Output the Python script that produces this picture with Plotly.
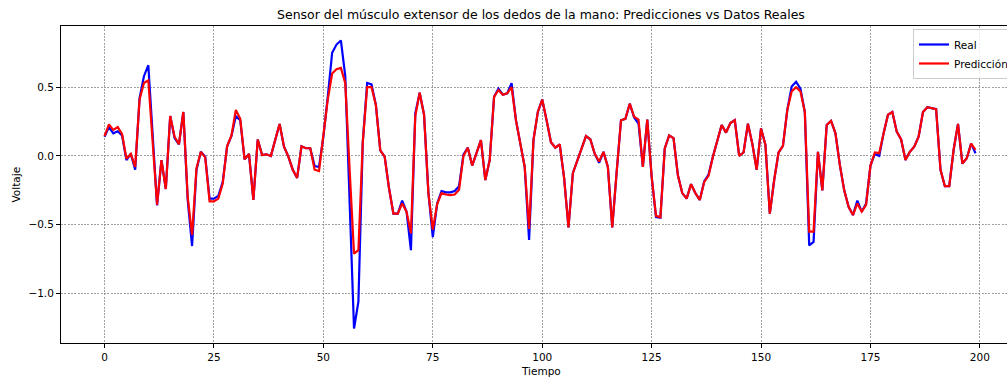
import plotly.graph_objects as go

tiempo = list(range(200))

real = [
    0.14, 0.21, 0.165, 0.18, 0.15, -0.03, 0.015, -0.10, 0.42, 0.58,
    0.66, 0.15, -0.36, -0.03, -0.24, 0.29, 0.13, 0.085, 0.32, -0.32,
    -0.655, -0.10, 0.03, -0.005, -0.31, -0.31, -0.29, -0.19, 0.07, 0.145,
    0.29, 0.26, -0.025, 0.015, -0.32, 0.12, 0.007, 0.012, 0.0, 0.117,
    0.233, 0.068, -0.005, -0.10, -0.16, 0.07, 0.056, 0.056, -0.073, -0.08,
    0.14, 0.43, 0.75, 0.81, 0.84, 0.58, -0.34, -1.255, -1.06, 0.10,
    0.53, 0.52, 0.37, 0.04, -0.005, -0.235, -0.42, -0.42, -0.325, -0.405,
    -0.685, 0.31, 0.46, 0.30, -0.27, -0.59, -0.345, -0.255, -0.265, -0.265,
    -0.255, -0.22, 0.01, 0.06, -0.07, 0.02, 0.115, -0.175, -0.03, 0.43,
    0.49, 0.445, 0.455, 0.53, 0.26, 0.09, -0.08, -0.61, 0.115, 0.32,
    0.41, 0.26, 0.10, 0.06, 0.085, -0.16, -0.52, -0.125, -0.04, 0.055,
    0.145, 0.12, 0.015, -0.05, 0.03, -0.08, -0.52, -0.12, 0.26, 0.27,
    0.38, 0.28, 0.235, -0.08, 0.265, -0.15, -0.445, -0.45, 0.055, 0.15,
    0.13, -0.14, -0.27, -0.31, -0.205, -0.27, -0.32, -0.185, -0.135, -0.005,
    0.117, 0.225, 0.17, 0.24, 0.26, 0.0, 0.025, 0.235, 0.09, -0.10,
    0.20, 0.08, -0.42, -0.175, 0.025, 0.073, 0.335, 0.505, 0.54, 0.49,
    0.32, -0.65, -0.625, 0.03, -0.25, 0.225, 0.255, 0.165, -0.065, -0.25,
    -0.37, -0.43, -0.325, -0.405, -0.345, -0.07, 0.015, 0.0, 0.165, 0.30,
    0.32, 0.177, 0.12, -0.03, 0.03, 0.068, 0.14, 0.32, 0.355, 0.347,
    0.34, -0.10, -0.22, -0.22, 0.045, 0.233, -0.055, -0.017, 0.09, 0.02,
]

prediccion = [
    0.145, 0.23, 0.19, 0.21, 0.16, -0.02, 0.015, -0.08, 0.41, 0.53,
    0.55, 0.10, -0.355, -0.03, -0.24, 0.29, 0.14, 0.085, 0.32, -0.30,
    -0.575, -0.09, 0.03, -0.01, -0.33, -0.33, -0.31, -0.20, 0.07, 0.15,
    0.335, 0.27, -0.025, 0.015, -0.32, 0.12, 0.007, 0.012, 0.0, 0.117,
    0.233, 0.068, -0.005, -0.10, -0.16, 0.07, 0.056, 0.056, -0.10, -0.11,
    0.13, 0.41, 0.60, 0.63, 0.64, 0.53, -0.10, -0.71, -0.685, 0.10,
    0.50, 0.50, 0.37, 0.04, -0.005, -0.235, -0.42, -0.42, -0.345, -0.405,
    -0.563, 0.29, 0.46, 0.30, -0.27, -0.535, -0.35, -0.27, -0.28, -0.285,
    -0.28, -0.245, 0.0, 0.06, -0.07, 0.02, 0.115, -0.175, -0.03, 0.43,
    0.48, 0.445, 0.455, 0.50, 0.26, 0.09, -0.08, -0.53, 0.115, 0.32,
    0.41, 0.26, 0.10, 0.06, 0.085, -0.16, -0.52, -0.125, -0.04, 0.055,
    0.145, 0.12, 0.015, -0.04, 0.03, -0.08, -0.52, -0.12, 0.26, 0.27,
    0.38, 0.285, 0.265, -0.08, 0.265, -0.15, -0.435, -0.445, 0.055, 0.15,
    0.13, -0.14, -0.27, -0.31, -0.205, -0.27, -0.32, -0.19, -0.145, -0.005,
    0.117, 0.225, 0.17, 0.24, 0.26, 0.0, 0.025, 0.235, 0.09, -0.10,
    0.20, 0.08, -0.42, -0.175, 0.025, 0.073, 0.335, 0.47, 0.50, 0.47,
    0.32, -0.55, -0.55, 0.03, -0.25, 0.225, 0.255, 0.165, -0.065, -0.25,
    -0.37, -0.43, -0.345, -0.405, -0.355, -0.07, 0.025, 0.02, 0.165, 0.30,
    0.32, 0.177, 0.12, -0.03, 0.03, 0.068, 0.14, 0.32, 0.355, 0.347,
    0.34, -0.10, -0.22, -0.22, 0.045, 0.233, -0.055, -0.017, 0.09, 0.045,
]

x_ticks = [0, 25, 50, 75, 100, 125, 150, 175, 200]
y_ticks = [-1.0, -0.5, 0.0, 0.5]

titulo = "Sensor del músculo extensor de los dedos de la mano: Predicciones vs Datos Reales"

FONT = "DejaVu Sans"
W, H = 1007, 379
L, T, B = 61, 26, 36

fig = go.Figure()
fig.add_trace(go.Scatter(x=tiempo, y=real, mode="lines", name="Real",
                         line=dict(color="#0000ff", width=2.2)))
fig.add_trace(go.Scatter(x=tiempo, y=prediccion, mode="lines", name="Predicción",
                         line=dict(color="#ff0000", width=2.2)))

plot_w = W - L
plot_h = H - T - B
title_cx = 540.5

fig.update_layout(
    width=W, height=H,
    margin=dict(l=L, r=0, t=T, b=B, pad=0, autoexpand=False),
    paper_bgcolor="white", plot_bgcolor="white",
    font=dict(family=FONT, size=10, color="black"),
    showlegend=True,
    legend=dict(x=(913 - L) / plot_w, y=(H - B - 29) / plot_h, xanchor="left", yanchor="top",
                bgcolor="rgba(255,255,255,0.8)", bordercolor="#cccccc", borderwidth=1,
                font=dict(family=FONT, size=10.5), tracegroupgap=0),
    annotations=[
        dict(text=titulo, xref="paper", yref="paper",
             x=(title_cx - L) / plot_w, y=(H - B - 14) / plot_h,
             xanchor="center", yanchor="middle", showarrow=False,
             font=dict(family=FONT, size=12.5, color="black")),
        dict(text="Tiempo", xref="paper", yref="paper",
             x=(title_cx - L) / plot_w, y=(H - B - 371) / plot_h,
             xanchor="center", yanchor="middle", showarrow=False,
             font=dict(family=FONT, size=10.5, color="black")),
        dict(text="Voltaje", xref="paper", yref="paper",
             x=(15 - L) / plot_w, y=0.5, textangle=-90,
             xanchor="center", yanchor="middle", showarrow=False,
             font=dict(family=FONT, size=10.5, color="black")),
    ],
)

fig.update_xaxes(
    range=[-9.95, -9.95 + plot_w / 4.3767],
    tickvals=x_ticks, ticktext=[str(v) for v in x_ticks],
    ticks="outside", ticklen=4, tickwidth=1, tickcolor="black",
    showline=True, linecolor="black", linewidth=1, mirror=True,
    showgrid=True, gridcolor="rgba(128,128,128,0.75)", gridwidth=0.8, griddash="2px,1.3px",
    zeroline=False, tickfont=dict(family=FONT, size=10.5),
)
fig.update_yaxes(
    range=[-1.36, 0.945],
    tickvals=y_ticks, tickformat=".1f",
    ticks="outside", ticklen=4, tickwidth=1, tickcolor="black",
    showline=True, linecolor="black", linewidth=1, mirror=False,
    showgrid=True, gridcolor="rgba(128,128,128,0.75)", gridwidth=0.8, griddash="2px,1.3px",
    zeroline=False, tickfont=dict(family=FONT, size=10.5),
)

fig.write_html(
    "out.html",
    config={"displayModeBar": False},
    post_script="document.body.style.margin='0';document.body.style.overflow='hidden';"
                "document.documentElement.style.overflow='hidden';",
)
